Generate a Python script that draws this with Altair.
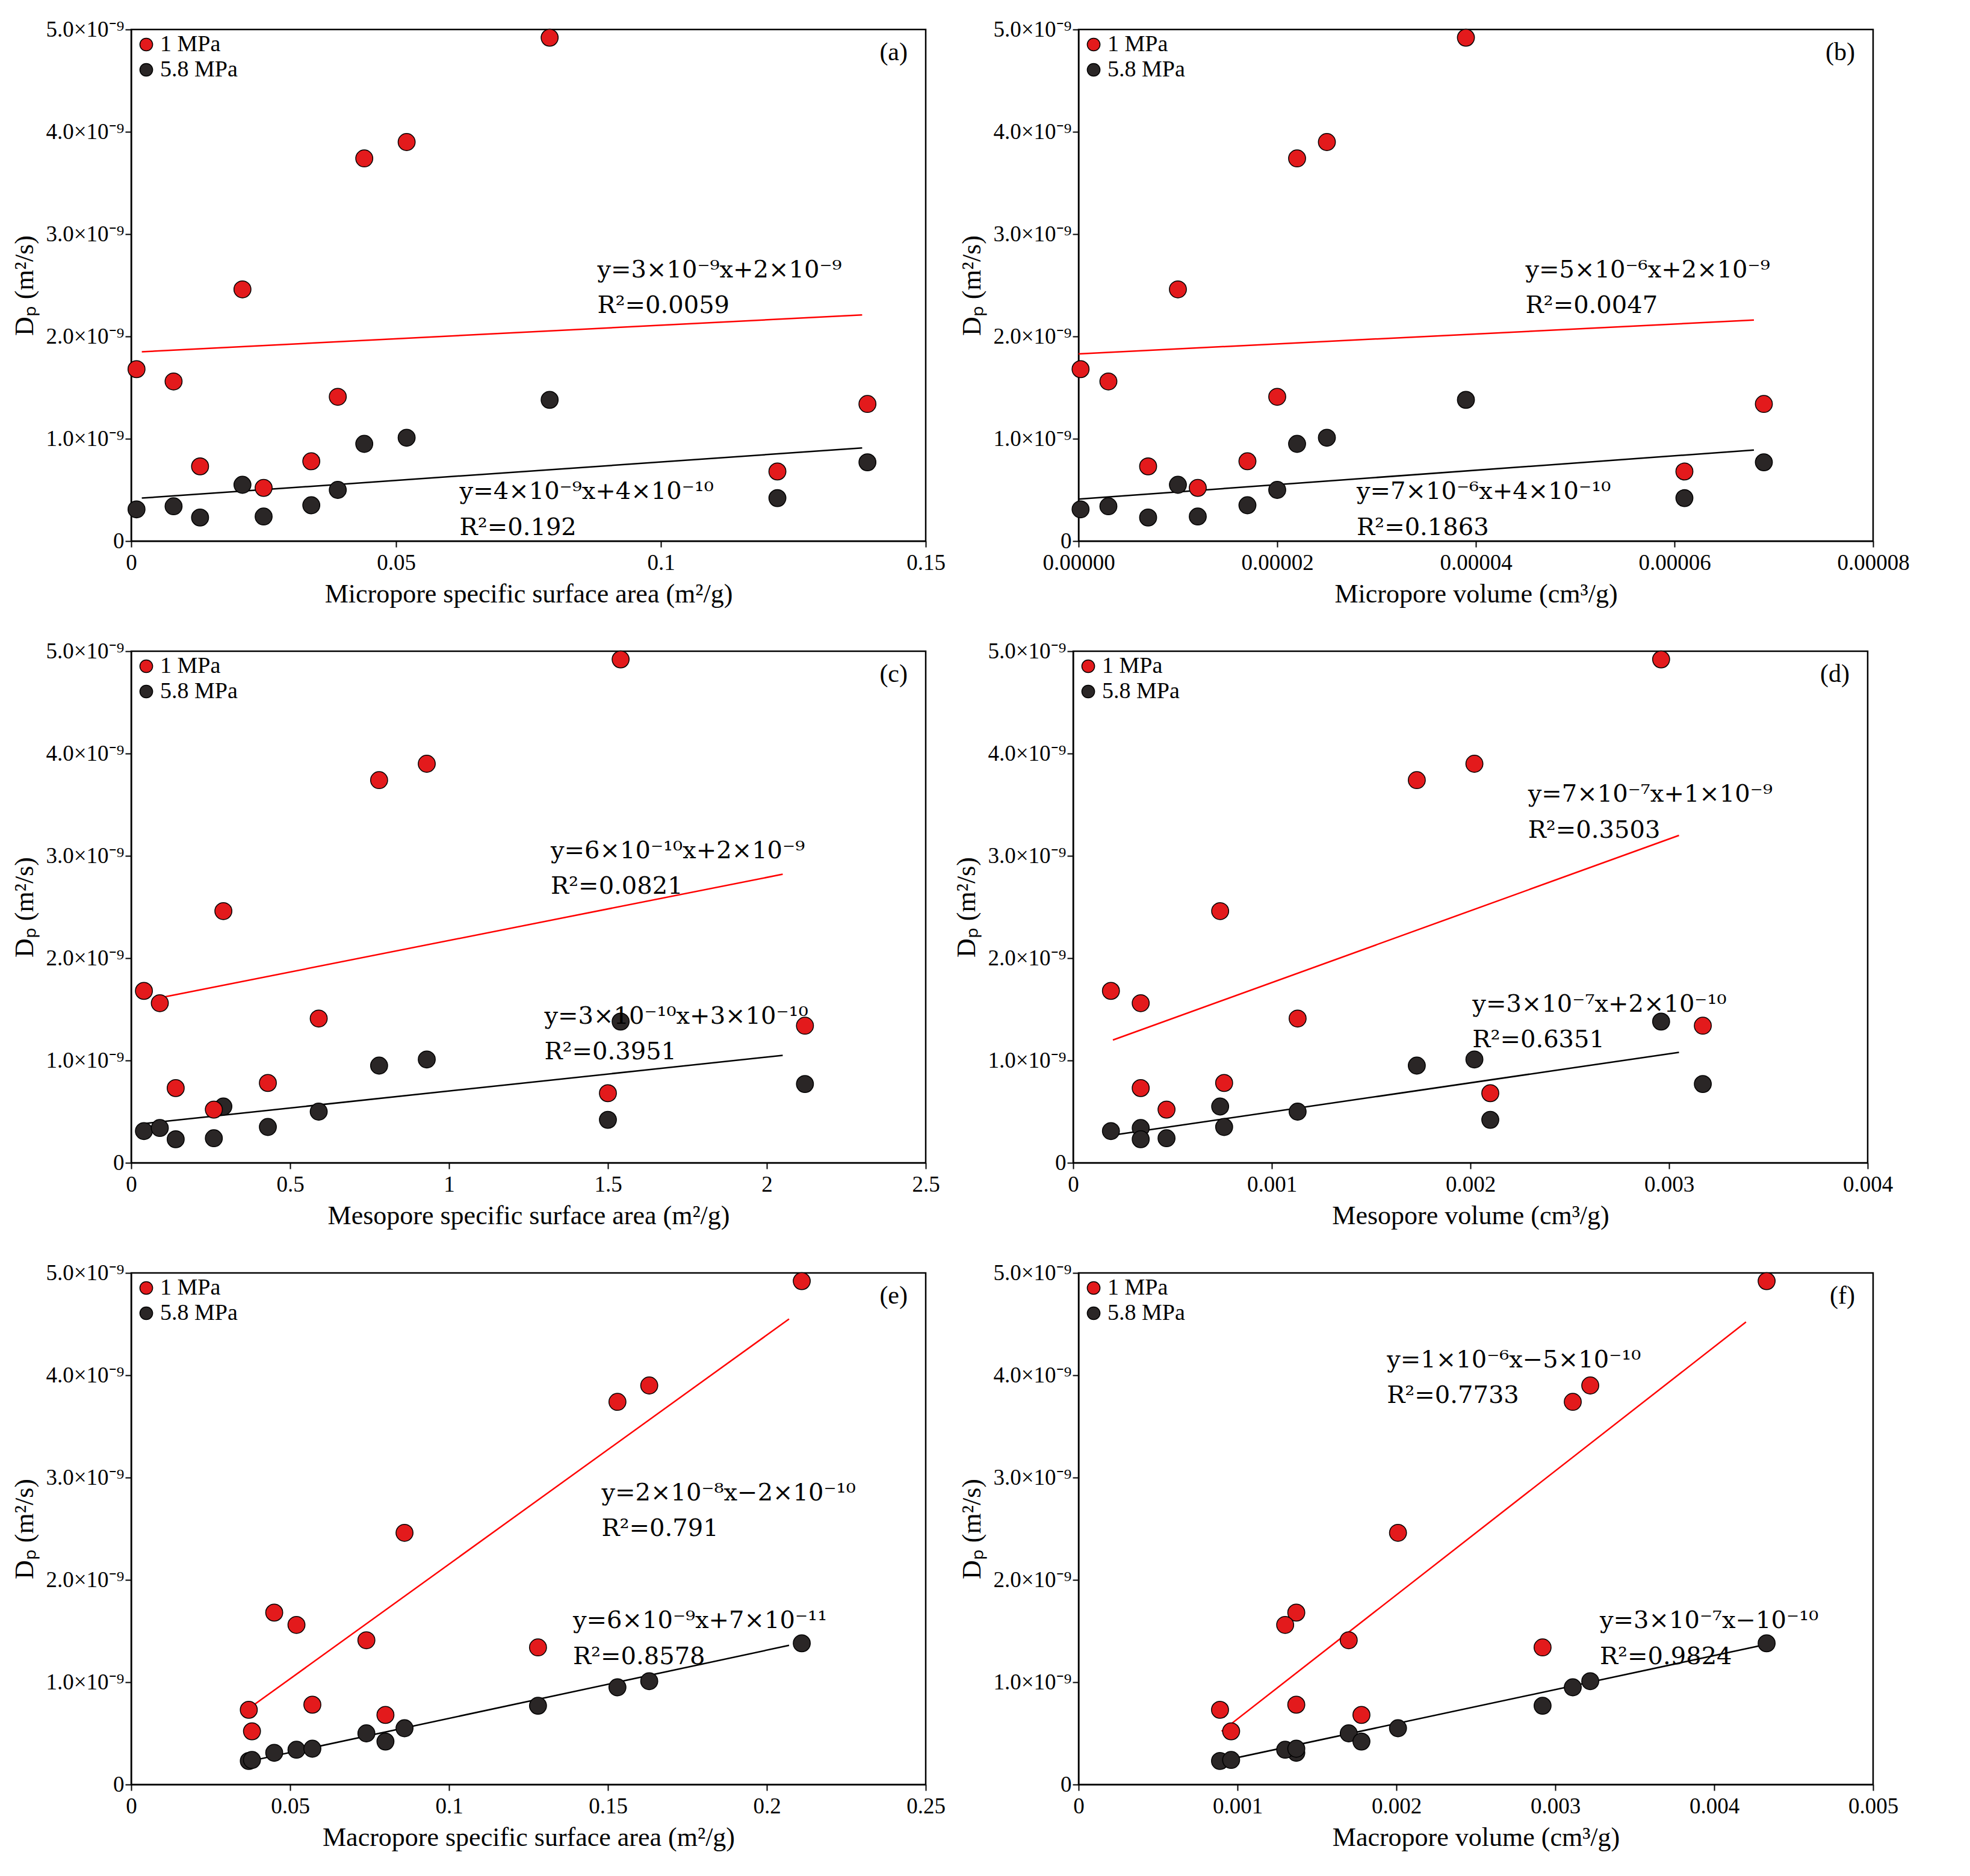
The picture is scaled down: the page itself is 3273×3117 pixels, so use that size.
import altair as alt
import pandas as pd

# Dp (x1e-9 m2/s) of the 12 samples
dp_1mpa = [1.68, 1.56, 0.73, 2.46, 0.52, 0.78, 1.41, 3.74, 3.90, 4.92, 0.68, 1.34]
dp_58mpa = [0.31, 0.34, 0.23, 0.55, 0.24, 0.35, 0.50, 0.95, 1.01, 1.38, 0.42, 0.77]

micro_ssa = [0.001, 0.008, 0.013, 0.021, 0.025, 0.034, 0.039, 0.044, 0.052, 0.079, 0.122, 0.139]
micro_vol = [0.0000002, 0.000003, 0.000007, 0.00001, 0.000012, 0.000017, 0.00002, 0.000022, 0.000025, 0.000039, 0.000061, 0.000069]
meso_ssa = [0.04, 0.09, 0.14, 0.29, 0.26, 0.43, 0.59, 0.78, 0.93, 1.54, 1.50, 2.12]
meso_vol = [0.00019, 0.00034, 0.00034, 0.00074, 0.00047, 0.00076, 0.00113, 0.00173, 0.00202, 0.00296, 0.00210, 0.00317]
macro_ssa = [0.045, 0.052, 0.037, 0.086, 0.038, 0.057, 0.074, 0.153, 0.163, 0.211, 0.080, 0.128]
macro_vol = [0.00137, 0.00130, 0.00089, 0.00201, 0.00096, 0.00137, 0.00170, 0.00311, 0.00322, 0.00433, 0.00178, 0.00292]

panels = [
    dict(key="(a)", x=micro_ssa, dom=[0, 0.15], step=[0, 0.05, 0.1, 0.15], fmt="~g",
         title="Micropore specific surface area  (m²/g)",
         red_line=[(0.002, 1.85), (0.138, 2.21)], blk_line=[(0.002, 0.42), (0.138, 0.91)],
         red_eq=("y=3×10⁻⁹x+2×10⁻⁹", "R²=0.0059", 0.088, 2.65),
         blk_eq=("y=4×10⁻⁹x+4×10⁻¹⁰", "R²=0.192", 0.062, 0.48)),
    dict(key="(b)", x=micro_vol, dom=[0, 0.00008], step=[0, 0.00002, 0.00004, 0.00006, 0.00008], fmt=".5f",
         title="Micropore volume (cm³/g)",
         red_line=[(0.0, 1.83), (0.000068, 2.16)], blk_line=[(0.0, 0.41), (0.000068, 0.89)],
         red_eq=("y=5×10⁻⁶x+2×10⁻⁹", "R²=0.0047", 0.000045, 2.65),
         blk_eq=("y=7×10⁻⁶x+4×10⁻¹⁰", "R²=0.1863", 0.000028, 0.48)),
    dict(key="(c)", x=meso_ssa, dom=[0, 2.5], step=[0, 0.5, 1, 1.5, 2, 2.5], fmt="~g",
         title="Mesopore specific surface area (m²/g)",
         red_line=[(0.07, 1.60), (2.05, 2.82)], blk_line=[(0.03, 0.38), (2.05, 1.05)],
         red_eq=("y=6×10⁻¹⁰x+2×10⁻⁹", "R²=0.0821", 1.32, 3.05),
         blk_eq=("y=3×10⁻¹⁰x+3×10⁻¹⁰", "R²=0.3951", 1.30, 1.43)),
    dict(key="(d)", x=meso_vol, dom=[0, 0.004], step=[0, 0.001, 0.002, 0.003, 0.004], fmt="~g",
         title="Mesopore volume (cm³/g)",
         red_line=[(0.0002, 1.2), (0.00305, 3.2)], blk_line=[(0.0002, 0.27), (0.00305, 1.08)],
         red_eq=("y=7×10⁻⁷x+1×10⁻⁹", "R²=0.3503", 0.00229, 3.6),
         blk_eq=("y=3×10⁻⁷x+2×10⁻¹⁰", "R²=0.6351", 0.00201, 1.55)),
    dict(key="(e)", x=macro_ssa, dom=[0, 0.25], step=[0, 0.05, 0.1, 0.15, 0.2, 0.25], fmt="~g",
         title="Macropore specific surface area (m²/g)",
         red_line=[(0.036, 0.72), (0.207, 4.55)], blk_line=[(0.036, 0.22), (0.207, 1.36)],
         red_eq=("y=2×10⁻⁸x−2×10⁻¹⁰", "R²=0.791", 0.148, 2.85),
         blk_eq=("y=6×10⁻⁹x+7×10⁻¹¹", "R²=0.8578", 0.139, 1.6)),
    dict(key="(f)", x=macro_vol, dom=[0, 0.005], step=[0, 0.001, 0.002, 0.003, 0.004, 0.005], fmt="~g",
         title="Macropore volume (cm³/g)",
         red_line=[(0.0009, 0.52), (0.0042, 4.52)], blk_line=[(0.0009, 0.23), (0.0043, 1.36)],
         red_eq=("y=1×10⁻⁶x−5×10⁻¹⁰", "R²=0.7733", 0.00194, 4.15),
         blk_eq=("y=3×10⁻⁷x−10⁻¹⁰", "R²=0.9824", 0.00328, 1.6)),
]

RED = "#e31a1c"
BLK = "#2a2626"
FONT = "Liberation Serif"
EQFONT = "DejaVu Serif"
W, H = 1320, 850

ylabel = "datum.value == 0 ? '0' : format(datum.value, '.1f') + '×10⁻⁹'"


def panel(p):
    rows = []
    for xv, a, b in zip(p["x"], dp_1mpa, dp_58mpa):
        rows.append(dict(x=xv, y=a, s="1 MPa"))
        rows.append(dict(x=xv, y=b, s="5.8 MPa"))
    df = pd.DataFrame(rows)
    xs = alt.Scale(domain=p["dom"], nice=False, zero=False)
    ys = alt.Scale(domain=[0, 5], nice=False)
    xenc = alt.X("x:Q", scale=xs, title=p["title"],
                 axis=alt.Axis(values=p["step"], format=p["fmt"], grid=False, labelFlush=False,
                               labelPadding=8))
    yenc = alt.Y("y:Q", scale=ys, title="Dₚ (m²/s)",
                 axis=alt.Axis(values=[0, 1, 2, 3, 4, 5], labelExpr=ylabel, grid=False))
    pts = alt.Chart(df).mark_circle(size=800, opacity=1, stroke="black", strokeWidth=1.5).encode(
        x=xenc, y=yenc,
        color=alt.Color("s:N", scale=alt.Scale(domain=["1 MPa", "5.8 MPa"], range=[RED, BLK]),
                        legend=alt.Legend(title=None, orient="top-left", offset=6,
                                          symbolSize=450, symbolStrokeColor="black",
                                          labelFontSize=38, labelFont=FONT, rowPadding=4,
                                          padding=0)))
    ldf = pd.DataFrame([dict(x=x, y=y, s="r") for x, y in p["red_line"]] +
                       [dict(x=x, y=y, s="k") for x, y in p["blk_line"]])
    lines = alt.Chart(ldf).mark_line(strokeWidth=2.5).encode(
        x="x:Q", y="y:Q", detail="s:N",
        color=alt.Color("s:N", scale=alt.Scale(domain=["r", "k"], range=["#ff0000", "black"]), legend=None))
    tdf = pd.DataFrame([
        dict(x=p["red_eq"][2], y=p["red_eq"][3], t=p["red_eq"][0]),
        dict(x=p["red_eq"][2], y=p["red_eq"][3] - 0.35, t=p["red_eq"][1]),
        dict(x=p["blk_eq"][2], y=p["blk_eq"][3], t=p["blk_eq"][0]),
        dict(x=p["blk_eq"][2], y=p["blk_eq"][3] - 0.35, t=p["blk_eq"][1]),
    ])
    texts = alt.Chart(tdf).mark_text(align="left", fontSize=40, font=EQFONT, color="black").encode(
        x="x:Q", y="y:Q", text="t:N")
    kdf = pd.DataFrame([dict(t=p["key"])])
    key = alt.Chart(kdf).mark_text(align="right", baseline="top", fontSize=42, font=FONT).encode(
        x=alt.value(W - 30), y=alt.value(18), text="t:N")
    return alt.layer(lines, pts, texts, key).resolve_scale(color="independent").properties(width=W, height=H)


rows = []
for i in range(0, 6, 2):
    rows.append(alt.hconcat(panel(panels[i]), panel(panels[i + 1]), spacing=20)
                .resolve_legend(color="independent"))

chart = alt.vconcat(*rows, spacing=50).resolve_legend(color="independent").configure_view(
    stroke="black", strokeWidth=2.5
).configure_axis(
    labelFont=FONT, titleFont=FONT, labelFontSize=37, titleFontSize=44,
    titleFontWeight="normal", labelColor="black", titleColor="black",
    domainColor="black", tickColor="black", tickSize=10, tickWidth=2, domainWidth=2,
    titlePadding=12
).properties(padding={"left": 10, "top": 20, "right": 10, "bottom": 10}, background="white")

chart.save("out.html", embed_options={"renderer": "svg", "actions": False})
